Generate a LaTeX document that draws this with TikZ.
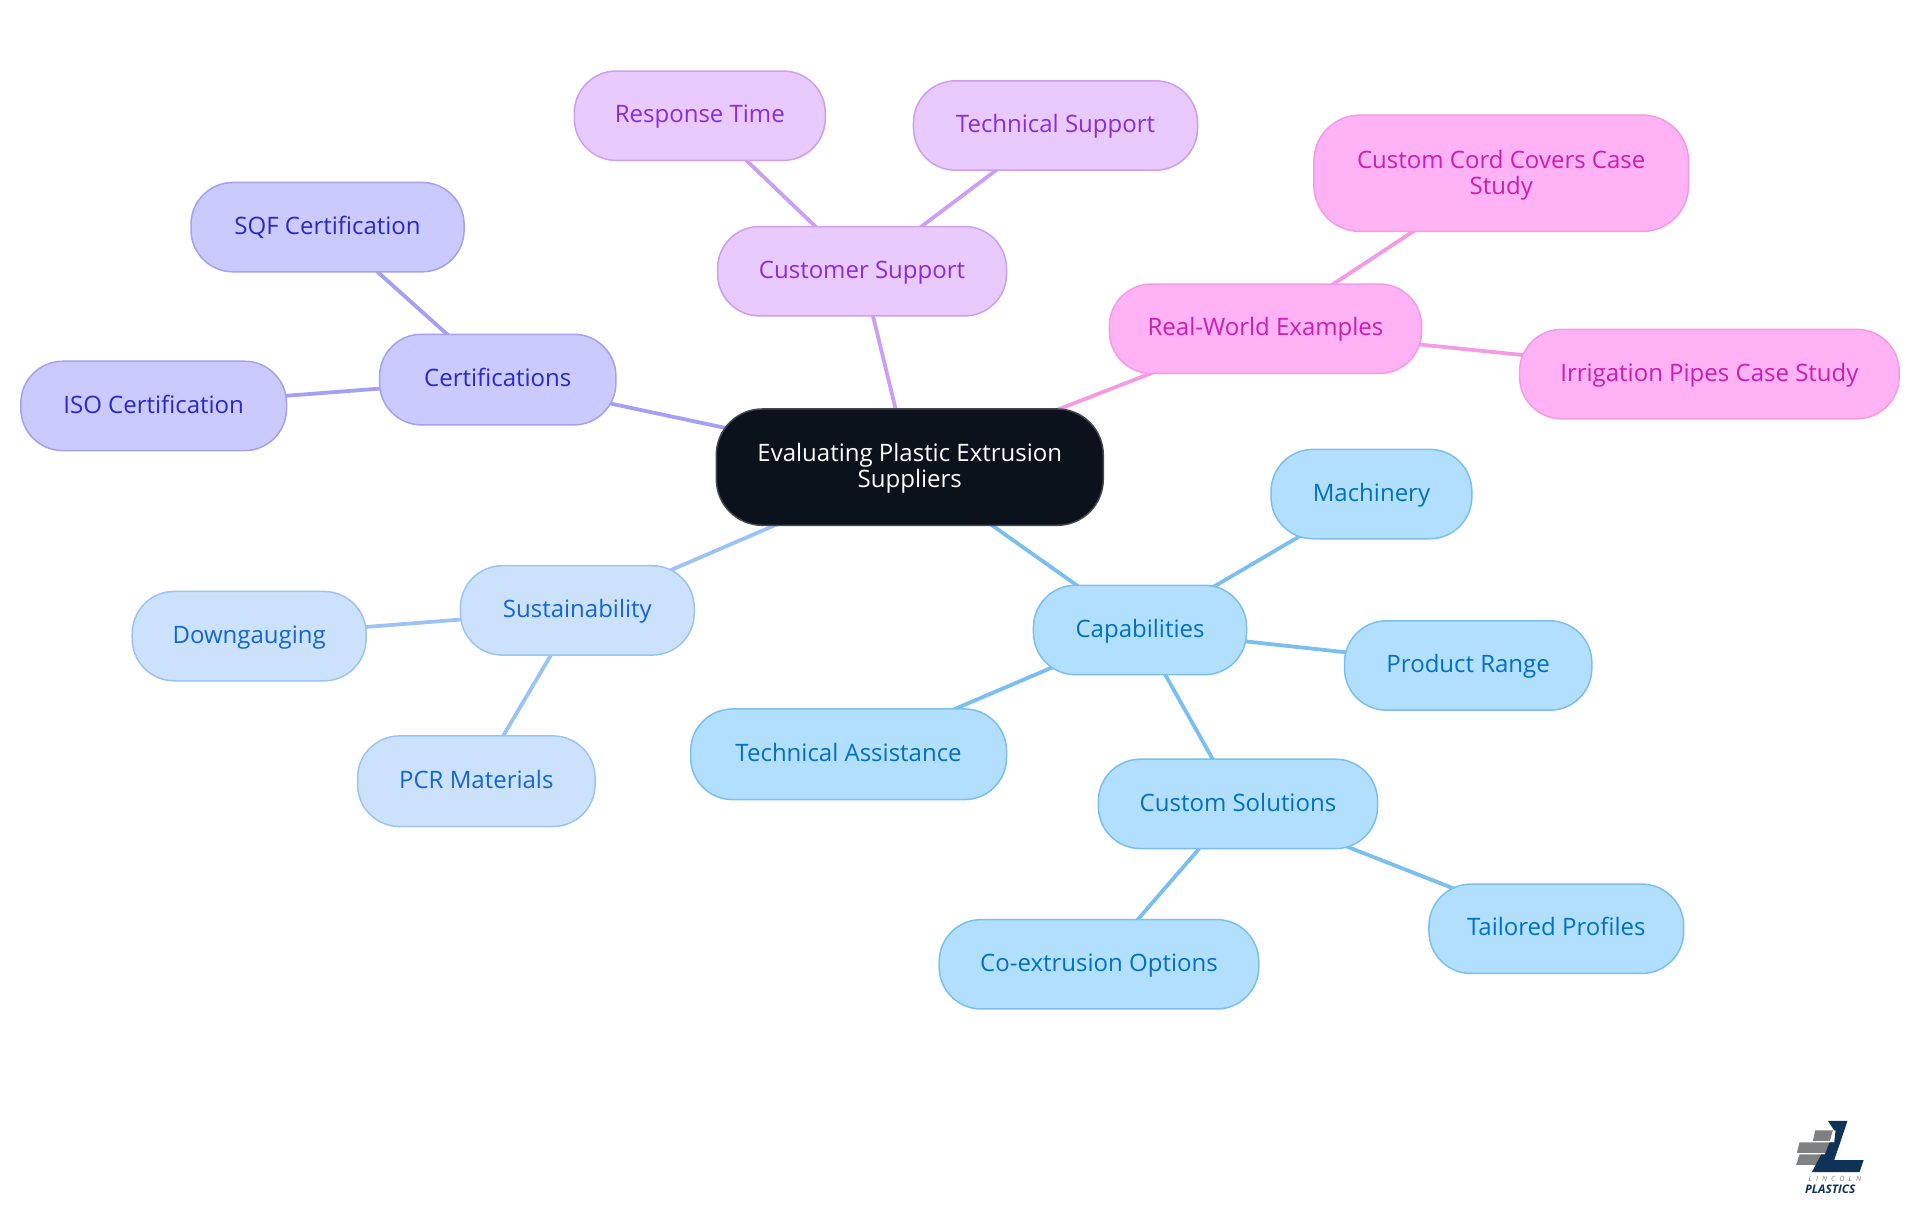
\documentclass[tikz,border=0pt]{standalone}
\usepackage{fontspec}
\setmainfont{Open Sans}
\usetikzlibrary{backgrounds}
\definecolor{rootfill}{HTML}{0B121B}\definecolor{rootline}{HTML}{43474D}
\definecolor{cfill}{HTML}{CACAFF}\definecolor{cline}{HTML}{A3A0F5}\definecolor{ctext}{HTML}{2A27CC}
\definecolor{sfill}{HTML}{E8CAFF}\definecolor{sline}{HTML}{CC9EF5}\definecolor{stext}{HTML}{8A2BE0}
\definecolor{rfill}{HTML}{FFB3F5}\definecolor{rline}{HTML}{F59BE6}\definecolor{rtext}{HTML}{D01CB0}
\definecolor{pfill}{HTML}{B3DFFF}\definecolor{pline}{HTML}{7ABFF0}\definecolor{ptext}{HTML}{0070C4}
\definecolor{ufill}{HTML}{CCE2FC}\definecolor{uline}{HTML}{9CC4F2}\definecolor{utext}{HTML}{1565D2}
\definecolor{logoblue}{HTML}{0F3357}\definecolor{logogray}{HTML}{7F8082}
\tikzset{
  x=0.6122pt,y=-0.6122pt,
  mm/.style={rectangle,inner sep=0pt,align=center,font=\fontsize{12}{13}\selectfont,rounded corners=21pt,line width=0.75pt,text height=9.2pt,text depth=2pt},
  two/.style={text height=,text depth=,rounded corners=23pt},
  cn/.style={mm,fill=cfill,draw=cline,text=ctext},
  sn/.style={mm,fill=sfill,draw=sline,text=stext},
  rn/.style={mm,fill=rfill,draw=rline,text=rtext},
  pn/.style={mm,fill=pfill,draw=pline,text=ptext},
  un/.style={mm,fill=ufill,draw=uline,text=utext},
  root/.style={mm,fill=rootfill,draw=rootline,text=white},
  cl/.style={draw=cline,line width=1.9pt},
  sl/.style={draw=sline,line width=1.9pt},
  rl/.style={draw=rline,line width=1.9pt},
  pl/.style={draw=pline,line width=1.9pt},
  ul/.style={draw=uline,line width=1.9pt},
}
\newcommand{\mmnode}[7]{%
  \pgfmathsetmacro{\mmx}{(#3+#5)/2}\pgfmathsetmacro{\mmy}{(#4+#6)/2}%
  \pgfmathsetlengthmacro{\mmw}{(#5-#3)*0.6122pt}\pgfmathsetlengthmacro{\mmh}{(#6-#4)*0.6122pt}%
  \node[#2,minimum width=\mmw,minimum height=\mmh] (#1) at (\mmx,\mmy) {#7};}
\begin{document}
\begin{tikzpicture}
\useasboundingbox (0,0) rectangle (1568,992.25);
\mmnode{root}{root,two}{585}{334}{901}{429}{\rule{0pt}{10.4pt}Evaluating Plastic Extrusion\\Suppliers}
\mmnode{cert}{cn}{310}{273}{503}{347}{Certifications}
\mmnode{sqf}{cn}{156}{149}{379}{222}{SQF Certification}
\mmnode{iso}{cn}{17}{295}{234}{368}{ISO Certification}
\mmnode{sup}{sn}{586}{185}{822}{258}{Customer Support}
\mmnode{resp}{sn}{469}{58}{674}{131}{Response Time}
\mmnode{tech}{sn}{746}{66}{978}{139}{Technical Support}
\mmnode{real}{rn}{906}{232}{1161}{305}{Real-World Examples}
\mmnode{cord}{rn,two}{1073}{94}{1379}{189}{\rule{0pt}{11pt}Custom Cord Covers Case\\Study}
\mmnode{irr}{rn}{1241}{269}{1551}{342}{Irrigation Pipes Case Study}
\mmnode{cap}{pn}{844}{478}{1018}{551}{Capabilities}
\mmnode{mach}{pn}{1038}{367}{1202}{440}{Machinery}
\mmnode{prod}{pn}{1098}{507}{1300}{580}{Product Range}
\mmnode{assist}{pn}{564}{579}{822}{653}{Technical Assistance}
\mmnode{cust}{pn}{897}{620}{1125}{693}{Custom Solutions}
\mmnode{coex}{pn}{767}{751}{1028}{824}{Co-extrusion Options}
\mmnode{tail}{pn}{1167}{722}{1375}{795}{Tailored Profiles}
\mmnode{sus}{un}{376}{462}{567}{535}{Sustainability}
\mmnode{down}{un}{108}{483}{299}{556}{Downgauging}
\mmnode{pcr}{un}{292}{601}{486}{675}{PCR Materials}
\begin{scope}[on background layer]
\draw[cl] (root.center)--(cert.center) (cert.center)--(sqf.center) (cert.center)--(iso.center);
\draw[sl] (root.center)--(sup.center) (sup.center)--(resp.center) (sup.center)--(tech.center);
\draw[rl] (root.center)--(real.center) (real.center)--(cord.center) (real.center)--(irr.center);
\draw[pl] (root.center)--(cap.center) (cap.center)--(mach.center) (cap.center)--(prod.center) (cap.center)--(assist.center) (cap.center)--(cust.center) (cust.center)--(coex.center) (cust.center)--(tail.center);
\draw[ul] (root.center)--(sus.center) (sus.center)--(down.center) (sus.center)--(pcr.center);
\end{scope}
% logo, in 3x-zoom pixels of the crop at (1760,1100)
\begin{scope}[x=0.16667pt,y=-0.16667pt,shift={(5280,3300)}]
\fill[logogray] (165,91)--(218,91)--(209,122)--(158,122)--cycle;
\fill[logogray] (118,127)--(218,127)--(208,158)--(110,158)--cycle;
\fill[logogray] (118,163)--(190,163)--(178,194)--(108,194)--cycle;
\fill[logoblue] (203,62)--(262,62)--(222,180)--(310,180)--(298,216)--(155,216)--(183,163)--(194,163)--(208,127)--(222,127)--(226,91)--(222,91)--cycle;
\node[text=logogray,font=\fontsize{3.6}{3.6}\selectfont\itshape,inner sep=0pt] (lincoln) at (224,236) {L\hspace{2pt}I\hspace{2pt}N\hspace{2pt}C\hspace{2pt}O\hspace{2pt}L\hspace{2pt}N};
\node[text=logoblue,font=\fontsize{5.9}{5.9}\selectfont\bfseries\itshape,inner sep=0pt] (plastics) at (210,266) {PLASTICS};
\end{scope}
\end{tikzpicture}
\end{document}
